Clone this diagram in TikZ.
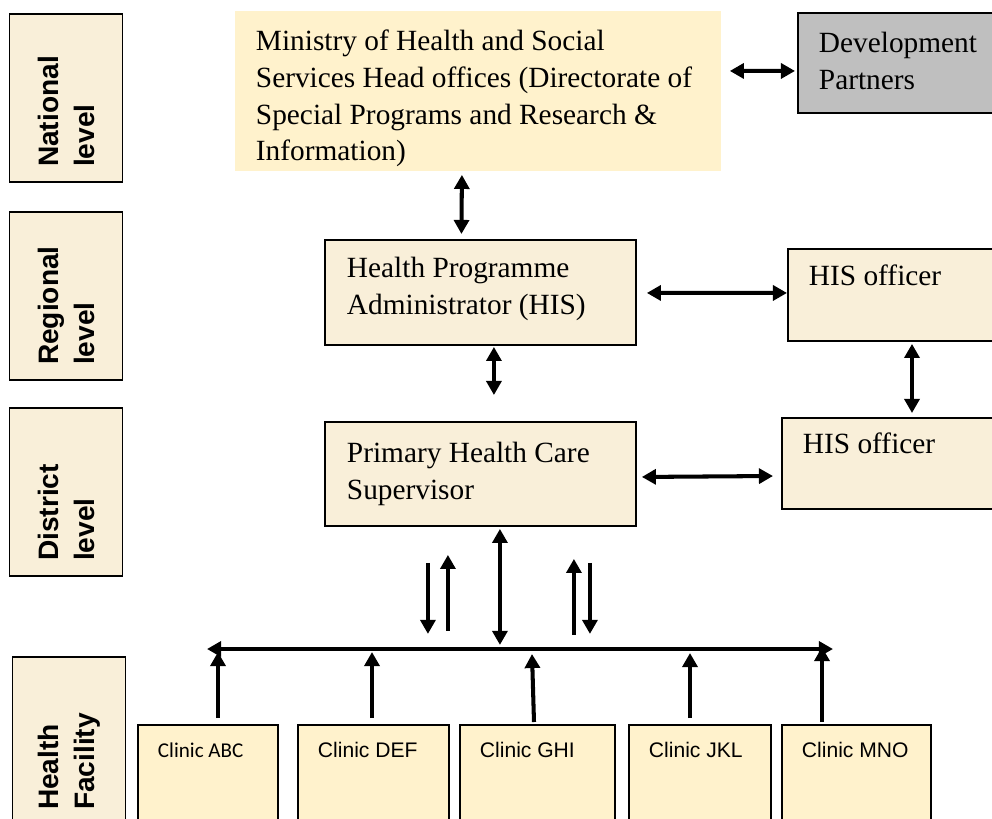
\documentclass[tikz,border=0pt]{standalone}
\usepackage{fontspec}
\setmainfont{Liberation Serif}
\newfontfamily\arialfont{Liberation Sans}
\newfontfamily\calibrifont{Carlito}
\usetikzlibrary{arrows.meta}
\definecolor{parch}{RGB}{249,239,217}
\definecolor{boxfill}{RGB}{255,242,204}
\definecolor{partnergray}{RGB}{191,191,191}
\newcommand{\serifsize}{\fontsize{16.7}{20.8}\selectfont}
\tikzset{
  tier/.style={draw, line width=1.1pt, fill=parch, rotate=90, minimum width=3.36cm, minimum height=2.26cm, text width=2.76cm, inner sep=0pt, align=left, font=\arialfont\bfseries\fontsize{16}{20.5}\selectfont},
  unit/.style={draw, line width=1.1pt, fill=parch, anchor=north west, align=left, inner xsep=0.42cm, inner ysep=0pt, font=\serifsize, execute at begin node={\spaceskip=0pt\xspaceskip=0pt\hyphenpenalty=10000}},
  clinic/.style={draw, line width=1.1pt, fill=boxfill, anchor=north west, align=left, inner xsep=0.4cm, inner ysep=0pt, text height=0.66cm, text depth=1.54cm, font=\arialfont\fontsize{12}{14}\selectfont, execute at begin node={\spaceskip=0pt}},
  link/.style={{Triangle[length=8pt,width=8.5pt]}-{Triangle[length=8pt,width=8.5pt]}, line width=2.3pt},
  flow/.style={-{Triangle[length=8pt,width=8.5pt]}, line width=2.3pt}
}
\begin{document}
\begin{tikzpicture}[x=0.02cm, y=-0.02cm]
\useasboundingbox (0,0) rectangle (992,819);
\clip (0,0) rectangle (992,819);
\node[tier] (national) at (66,98) {National\\level};
\node[tier] (regional) at (66,296) {Regional\\level};
\node[tier] (district) at (66,492) {District\\level};
\node[tier] (facility) at (69,741) {Health\\Facility};
\node[unit, draw=none, fill=boxfill, text width=8.88cm, text height=0.8cm, text depth=2.4cm] (min) at (234,10) {Ministry of Health and Social\\Services Head offices (Directorate~of\\Special Programs and Research~\&\\Information)};
\node[unit, fill=partnergray, text width=3.76cm, text height=0.8cm, text depth=1.2cm] (dp) at (797,12) {Development\\Partners};
\node[unit, inner xsep=0.44cm, text width=5.34cm, text height=0.76cm, text depth=1.34cm] (hpa) at (324,239) {Health Programme\\Administrator (HIS)};
\node[unit, inner xsep=0.44cm, text width=5.34cm, text height=0.82cm, text depth=1.26cm] (phc) at (324,421) {Primary Health Care\\Supervisor};
\node[unit, text width=4.02cm, text height=0.74cm, text depth=1.1cm] (hisreg) at (787,248) {HIS officer};
\node[unit, text width=4.14cm, text height=0.72cm, text depth=1.1cm] (hisdist) at (781,417) {HIS officer};
\node[clinic, font=\calibrifont\fontsize{12}{14}\selectfont, text width=2.0cm] (abc) at (137,724) {Clinic~ABC};
\node[clinic, text width=2.22cm] (def) at (297,724) {Clinic~DEF};
\node[clinic, text width=2.3cm] (ghi) at (459,724) {Clinic~GHI};
\node[clinic, text width=2.04cm] (jkl) at (628,724) {Clinic~JKL};
\node[clinic, text width=2.18cm] (mno) at (781,724) {Clinic~MNO};
\coordinate (busL) at (207,649);
\coordinate (busR) at (833,649);
\draw[link] ([shift={(8,-20)}]min.east) -- ([shift={(-2,8)}]dp.west);
\draw[link] ([shift={(-16,3)}]min.south) -- ([shift={(-19,-5)}]hpa.north);
\draw[link] ([shift={(10,0.5)}]hpa.east) -- ([shift={(0,-2)}]hisreg.west);
\draw[link] ([shift={(13.5,1)}]hpa.south) -- ([shift={(13.5,-26)}]phc.north);
\draw[link] ([shift={(125,2)}]hisreg.south west) -- ([shift={(131,-4)}]hisdist.north west);
\draw[link] ([shift={(5,3)}]phc.east) -- ([shift={(-8,59)}]hisdist.north west);
\draw[link, line width=2.6pt] (busL) -- (busR);
\draw[flow] ([shift={(-52.5,36)}]phc.south) -- ([shift={(-52.5,107)}]phc.south);
\draw[flow] ([shift={(-32.5,104)}]phc.south) -- ([shift={(-32.5,28)}]phc.south);
\draw[link] ([shift={(19.5,2)}]phc.south) -- ([shift={(19.5,118)}]phc.south);
\draw[flow] ([shift={(93.5,108)}]phc.south) -- ([shift={(93.5,32)}]phc.south);
\draw[flow] ([shift={(109.5,36)}]phc.south) -- ([shift={(109.5,107)}]phc.south);
\draw[flow] ([shift={(81,-6)}]abc.north west) -- ([shift={(81,-72)}]abc.north west);
\draw[flow] ([shift={(75,-6)}]def.north west) -- ([shift={(75,-72)}]def.north west);
\draw[flow] ([shift={(75,-2)}]ghi.north west) -- ([shift={(73,-70)}]ghi.north west);
\draw[flow] ([shift={(62,-6)}]jkl.north west) -- ([shift={(62,-71)}]jkl.north west);
\draw[flow] ([shift={(41,-2)}]mno.north west) -- ([shift={(41,-77)}]mno.north west);
\end{tikzpicture}
\end{document}
